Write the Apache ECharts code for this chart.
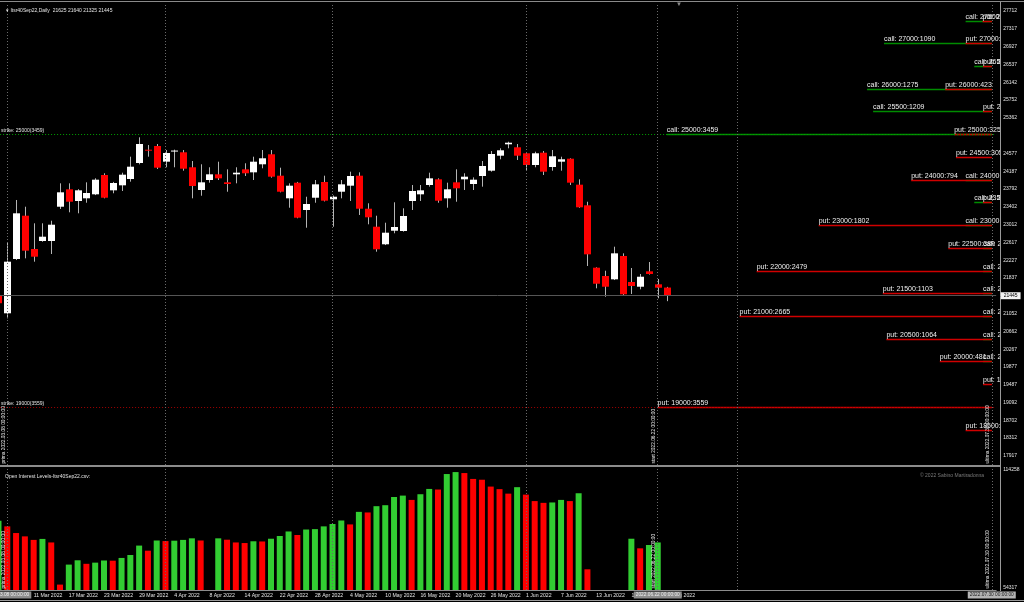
<!DOCTYPE html>
<html>
<head>
<meta charset="utf-8">
<script src="https://cdn.jsdelivr.net/npm/echarts@6.0.0/dist/echarts.min.js"></script>
<style>
html,body{margin:0;padding:0;background:#000;overflow:hidden;}
#chart{width:1024px;height:602px;}
</style>
</head>
<body>
<div id="chart"></div>
<script>
// ================= DATA =================
const symbol = 'Itsr40Sep22';
const timeframe = 'Daily';

const dates = ['7 Mar 2022','8 Mar 2022','9 Mar 2022','10 Mar 2022','11 Mar 2022','14 Mar 2022','15 Mar 2022','16 Mar 2022','17 Mar 2022','18 Mar 2022','21 Mar 2022','22 Mar 2022','23 Mar 2022','24 Mar 2022','25 Mar 2022','28 Mar 2022','29 Mar 2022','30 Mar 2022','31 Mar 2022','1 Apr 2022','4 Apr 2022','5 Apr 2022','6 Apr 2022','7 Apr 2022','8 Apr 2022','11 Apr 2022','12 Apr 2022','13 Apr 2022','14 Apr 2022','19 Apr 2022','20 Apr 2022','21 Apr 2022','22 Apr 2022','25 Apr 2022','26 Apr 2022','27 Apr 2022','28 Apr 2022','29 Apr 2022','2 May 2022','3 May 2022','4 May 2022','5 May 2022','6 May 2022','9 May 2022','10 May 2022','11 May 2022','12 May 2022','13 May 2022','16 May 2022','17 May 2022','18 May 2022','19 May 2022','20 May 2022','23 May 2022','24 May 2022','25 May 2022','26 May 2022','27 May 2022','30 May 2022','31 May 2022','1 Jun 2022','2 Jun 2022','3 Jun 2022','6 Jun 2022','7 Jun 2022','8 Jun 2022','9 Jun 2022','10 Jun 2022','13 Jun 2022','14 Jun 2022','15 Jun 2022','16 Jun 2022','17 Jun 2022','20 Jun 2022','21 Jun 2022','22 Jun 2022','23 Jun 2022'];

const opens = [21445,21058,22253,23206,22473,22649,22649,23404,23787,23530,23589,23677,24102,23765,23875,24014,24366,24659,24740,24395,24625,24602,24272,23772,23992,24117,23941,24117,24227,24161,24338,24558,24087,23589,23933,23332,23602,23948,23567,23734,23867,24087,23360,22964,22577,22876,22869,23530,23677,23882,24007,23589,23941,24007,23904,24080,24197,24527,24778,24712,24580,24322,24593,24278,24395,24461,23889,23435,22062,21879,21806,22319,21747,21643,21982,21696,21625];
const highs = [21490,22612,23552,23404,23039,23039,23096,23919,23919,23790,23941,24030,24140,23950,24153,24505,24932,24762,24784,24652,24660,24652,24410,24338,24272,24395,24227,24272,24360,24505,24652,24652,24263,23919,23950,23624,23992,24087,23650,23992,24175,24161,23479,23206,23052,23501,23369,23882,23882,24153,24029,23933,24227,24140,24050,24410,24630,24690,24835,24784,24600,24615,24630,24652,24505,24470,24007,23514,22070,21995,22524,22378,22055,21923,22187,21813,21640];
const lows = [21250,20948,22230,22268,22194,22633,22363,23354,23281,23259,23492,23660,23589,23700,23750,23955,24337,24505,24234,24272,24272,24197,23589,23646,23933,23992,23734,23919,24080,23992,24250,24043,23720,23382,23150,22942,23492,23520,22964,23589,23530,23222,23017,22414,22560,22819,22855,23332,23530,23845,23492,23382,23514,23772,23772,23845,24175,24448,24690,24432,24212,24272,24102,24197,24197,23882,23380,22099,21608,21423,21790,21460,21483,21586,21910,21388,21325];
const closes = [21280,22194,23259,22436,22304,22744,23008,23721,23514,23765,23706,23999,23602,23926,24109,24285,24784,24637,24263,24586,24640,24241,23860,23941,24117,24029,23904,24153,24140,24395,24470,24065,23734,23867,23162,23464,23897,23536,23624,23897,24080,23360,23171,22467,22832,22957,23200,23750,23765,24029,23536,23787,23809,24065,23999,24300,24564,24646,24813,24527,24322,24580,24175,24514,24448,23933,23391,22356,21709,21643,22378,21476,21659,21863,21923,21621,21445];

// Open interest (lower pane), one value per date, null = no value
const openInterest = [88400,85500,82100,80400,78600,79100,77300,55800,66000,68200,66400,67000,68100,68000,69400,70900,75700,73100,78300,78000,78200,78600,79400,78300,null,79400,78700,77300,77000,77900,77800,79200,80600,82900,81100,83900,84100,85500,86700,88500,86500,92900,92600,95800,96300,100500,101200,99000,101900,104600,104300,112200,113200,112700,109700,109300,105800,104500,102200,105500,101700,98400,97500,97700,99000,98400,102400,63600,null,null,null,null,79200,74300,76000,77300,null];

// Option open interest levels
const strikes = [27500,27000,26500,26000,25500,25000,24500,24000,23500,23000,22500,22000,21500,21000,20500,20000,19500,19000,18500];
const callOI  = [200,1090,106,1275,1209,3459,null,200,106,200,10,10,10,10,10,10,null,null,null];
const putOI   = [15,200,10,423,10,325,305,794,10,1802,389,2479,1103,2665,1064,481,10,3559,200];

const priceTickLabels = [27712,27317,26927,26537,26142,25752,25362,24577,24187,23792,23402,23012,22617,22227,21837,21052,20662,20267,19877,19487,19092,18702,18312,17917];
const oiTickLabels = [114258,54317];

const firstDate = '2022.03.08 00:00:00';
const startDate = '2022.06.22 00:00:00';
const lastDate  = '2022.07.30 00:00:00';

// ================= LAYOUT / STYLE =================
const FONT = '"Liberation Sans", Arial, sans-serif';
const FUTURE_SLOTS = 37;
const PRICE_MIN = 17719, PRICE_MAX = 27888;
const OI_MIN = 53042, OI_MAX = 115788;
const LEVEL_AXIS_MIN = -175, LEVEL_AXIS_MAX = 10731, LEVEL_LINE_END = -87;
const GRID_LEFT = -5.9, GRID_WIDTH = 1002.06;
const TXT = '#e4e4e4';
const GRIDLINE = '#6a6a6a';

const categories = dates.concat(Array.from({length: FUTURE_SLOTS}, (_, j) => 'slot+' + (j + 1)));
const lastSlot = categories.length - 1;
const firstSlot = dates.indexOf('8 Mar 2022');
const startSlot = dates.indexOf('22 Jun 2022');
const separatorSlots = [dates.indexOf('1 Apr 2022'), dates.indexOf('2 May 2022'), dates.indexOf('1 Jun 2022'), 84];

const n = dates.length - 1;
const currentPrice = closes[n];

const candleData = dates.map((d, k) => [k, opens[k], closes[k], lows[k], highs[k]]);

let prevOI = null;
const oiBarData = openInterest.map(v => {
  if (v == null) return '-';
  const up = prevOI == null || v > prevOI;
  prevOI = v;
  return {value: v, itemStyle: {color: up ? '#32cd32' : '#ff0000'}};
});

const levelData = [];
strikes.forEach((s, j) => { if (callOI[j] != null) levelData.push([s, callOI[j], 0]); });
strikes.forEach((s, j) => { if (putOI[j] != null) levelData.push([s, putOI[j], 1]); });

let maxCallIdx = 0, maxPutIdx = 0;
callOI.forEach((v, j) => { if (v != null && v > callOI[maxCallIdx]) maxCallIdx = j; });
putOI.forEach((v, j) => { if (v != null && v > putOI[maxPutIdx]) maxPutIdx = j; });
const callStrike = strikes[maxCallIdx], putStrike = strikes[maxPutIdx];

const small = {fontFamily: FONT, fontSize: 5, color: TXT};
const plain = v => String(v);

function vLine(slot, label) {
  return {xAxis: slot, lineStyle: {color: GRIDLINE, type: [1, 2], width: 1}, label: label || {show: false}};
}
function vText(text) {
  return Object.assign({show: true, position: 'insideStartTop', formatter: text, distance: 1.5}, small, {fontSize: 4.8});
}
function vBox(text) {
  return Object.assign({show: true, position: 'start', formatter: text, distance: 1.5,
    backgroundColor: '#8c8c8c', padding: [1, 2]}, small, {fontSize: 4.8, color: '#eeeeee'});
}

const mainMarkLine = {
  symbol: ['none', 'none'], silent: true, animation: false,
  data: [
    {yAxis: callStrike, lineStyle: {color: '#00a000', type: [1, 2], width: 1},
      label: Object.assign({show: true, position: 'insideStartTop', formatter: 'strike: ' + callStrike + '(' + callOI[maxCallIdx] + ')', distance: 1, padding: [0, 0, 0, 6]}, small)},
    {yAxis: callStrike, lineStyle: {opacity: 0},
      label: Object.assign({show: true, position: 'end', formatter: String(callStrike), distance: 4.5, backgroundColor: '#1ec81e', padding: [1, 3]}, small, {color: '#ffffff'})},
    {yAxis: putStrike, lineStyle: {color: '#a00000', type: [1, 2], width: 1},
      label: Object.assign({show: true, position: 'insideStartTop', formatter: 'strike: ' + putStrike + '(' + putOI[maxPutIdx] + ')', distance: 1, padding: [0, 0, 0, 6]}, small)},
    {yAxis: putStrike, lineStyle: {opacity: 0},
      label: Object.assign({show: true, position: 'end', formatter: String(putStrike), distance: 4.5, backgroundColor: '#ff0000', padding: [1, 3]}, small, {color: '#ffffff'})},
    {yAxis: currentPrice, lineStyle: {color: '#555555', type: 'solid', width: 1},
      label: Object.assign({show: true, position: 'end', formatter: String(currentPrice), distance: 4.5, backgroundColor: '#f4f4f4', padding: [1, 3]}, small, {color: '#000000'})},
    ...separatorSlots.map(s => vLine(s)),
    vLine(firstSlot, vText('prima ' + firstDate)),
    vLine(startSlot, vText('start ' + startDate)),
    vLine(lastSlot, vText('ultima ' + lastDate))
  ]
};

const lowerMarkLine = {
  symbol: ['none', 'none'], silent: true, animation: false,
  data: [
    ...separatorSlots.map(s => vLine(s)),
    vLine(firstSlot, vText('prima ' + firstDate)),
    vLine(firstSlot, vBox(firstDate)),
    vLine(startSlot, vText('start ' + startDate)),
    vLine(startSlot, vBox(startDate)),
    vLine(lastSlot, vText('ultima ' + lastDate)),
    vLine(lastSlot, Object.assign(vBox(lastDate), {backgroundColor: '#b4b4b4', color: '#202020'}))
  ]
};

const option = {
  backgroundColor: '#000000',
  animation: false,
  title: [
    {text: '\u25BE ' + symbol + ',' + timeframe + '  ' + opens[n] + ' ' + highs[n] + ' ' + lows[n] + ' ' + closes[n],
      left: 1, top: 3, textStyle: {fontFamily: FONT, fontSize: 5, color: TXT, fontWeight: 'normal'}},
    {text: 'Open Interest Levels-' + symbol + '.csv:', left: 0, top: 469,
      textStyle: {fontFamily: FONT, fontSize: 5, color: TXT, fontWeight: 'normal'}},
    {text: '\u00A9 2022 Sabino Martiradonna', right: 35, top: 468,
      textStyle: {fontFamily: FONT, fontSize: 5, color: '#7a7a7a', fontWeight: 'normal'}}
  ],
  grid: [
    {left: GRID_LEFT, top: 3, width: GRID_WIDTH, height: 462, outerBoundsMode: 'none', containLabel: false},
    {left: GRID_LEFT, top: 467, width: GRID_WIDTH, height: 123, outerBoundsMode: 'none', containLabel: false},
    {left: 0, top: 3, width: 1000, height: 462, outerBoundsMode: 'none', containLabel: false}
  ],
  xAxis: [
    {type: 'category', gridIndex: 0, data: categories, boundaryGap: true,
      axisLine: {show: false}, axisTick: {show: false}, axisLabel: {show: false}, splitLine: {show: false}},
    {type: 'category', gridIndex: 1, data: categories, boundaryGap: true,
      axisLine: {show: true, lineStyle: {color: '#8c8c8c'}}, axisTick: {show: false},
      axisLabel: {show: true, interval: (k) => k >= 4 && k < dates.length && k % 4 === 0,
        align: 'left', margin: 3, fontFamily: FONT, fontSize: 5.2, color: TXT},
      splitLine: {show: false}},
    {type: 'value', gridIndex: 2, inverse: true, min: LEVEL_AXIS_MIN, max: LEVEL_AXIS_MAX, show: false}
  ],
  yAxis: [
    {type: 'value', gridIndex: 0, position: 'right', offset: 4, min: PRICE_MIN, max: PRICE_MAX,
      axisLine: {show: false}, axisTick: {show: false}, splitLine: {show: false},
      axisLabel: {show: true, customValues: priceTickLabels, formatter: plain, margin: 3, fontFamily: FONT, fontSize: 5, color: TXT}},
    {type: 'value', gridIndex: 1, position: 'right', offset: 4, min: OI_MIN, max: OI_MAX,
      axisLine: {show: false}, axisTick: {show: false}, splitLine: {show: false},
      axisLabel: {show: true, customValues: oiTickLabels, formatter: plain, margin: 3, fontFamily: FONT, fontSize: 5, color: TXT}},
    {type: 'value', gridIndex: 2, min: PRICE_MIN, max: PRICE_MAX, show: false}
  ],
  series: [
    {
      type: 'custom', name: 'price', xAxisIndex: 0, yAxisIndex: 0, clip: true,
      encode: {x: 0, y: [1, 2, 3, 4]},
      data: candleData,
      renderItem: (params, api) => {
        const k = api.value(0), o = api.value(1), c = api.value(2), l = api.value(3), h = api.value(4);
        const po = api.coord([k, o]), pc = api.coord([k, c]), pl = api.coord([k, l]), ph = api.coord([k, h]);
        const w = api.size([1, 0])[0] * 0.8;
        const x = Math.round(po[0]) + 0.5;
        const top = Math.min(po[1], pc[1]);
        const hh = Math.max(Math.abs(po[1] - pc[1]), 1);
        const up = c >= o;
        return {type: 'group', children: [
          {type: 'line', shape: {x1: x, y1: ph[1], x2: x, y2: pl[1]}, style: {stroke: '#b4b4b4', lineWidth: 1}},
          {type: 'rect', shape: {x: x - w / 2, y: top, width: w, height: hh}, style: {fill: up ? '#ffffff' : '#ff0000'}}
        ]};
      },
      markLine: mainMarkLine
    },
    {
      type: 'bar', name: 'open interest', xAxisIndex: 1, yAxisIndex: 1, barWidth: 6,
      data: oiBarData, markLine: lowerMarkLine
    },
    {
      type: 'custom', name: 'levels', xAxisIndex: 2, yAxisIndex: 2, clip: true,
      encode: {x: 1, y: 0},
      data: levelData,
      renderItem: (params, api) => {
        const s = api.value(0), v = api.value(1), isPut = api.value(2) === 1;
        const a = api.coord([v, s]), b = api.coord([LEVEL_LINE_END, s]);
        const y = Math.round(a[1]) + 0.5;
        return {type: 'group', children: [
          {type: 'line', shape: {x1: a[0], y1: y, x2: b[0], y2: y},
            style: {stroke: isPut ? '#d00000' : '#008c00', lineWidth: 1.5}},
          {type: 'text', x: a[0], y: y - 1,
            style: {text: (isPut ? 'put: ' : 'call: ') + s + ':' + v, fill: '#f0f0f0',
              font: '7px ' + FONT, align: 'left', verticalAlign: 'bottom'}}
        ]};
      }
    }
  ],
  graphic: [
    {type: 'line', shape: {x1: 0, y1: 1.5, x2: 1024, y2: 1.5}, style: {stroke: '#8a8a8a', lineWidth: 1}},
    {type: 'rect', shape: {x: 0, y: 465, width: 1001, height: 2}, style: {fill: '#8c8c8c'}},
    {type: 'line', shape: {x1: 1000.5, y1: 2, x2: 1000.5, y2: 591}, style: {stroke: '#9a9a9a', lineWidth: 1}},
    {type: 'line', shape: {x1: 0, y1: 600.5, x2: 1024, y2: 600.5}, style: {stroke: '#9a9a9a', lineWidth: 1}},
    {type: 'text', x: 676, y: 1, style: {text: '\u25BC', fill: '#8a8a8a', font: '6px ' + FONT}}
  ]
};

const chart = echarts.init(document.getElementById('chart'));
chart.setOption(option);
</script>
</body>
</html>
